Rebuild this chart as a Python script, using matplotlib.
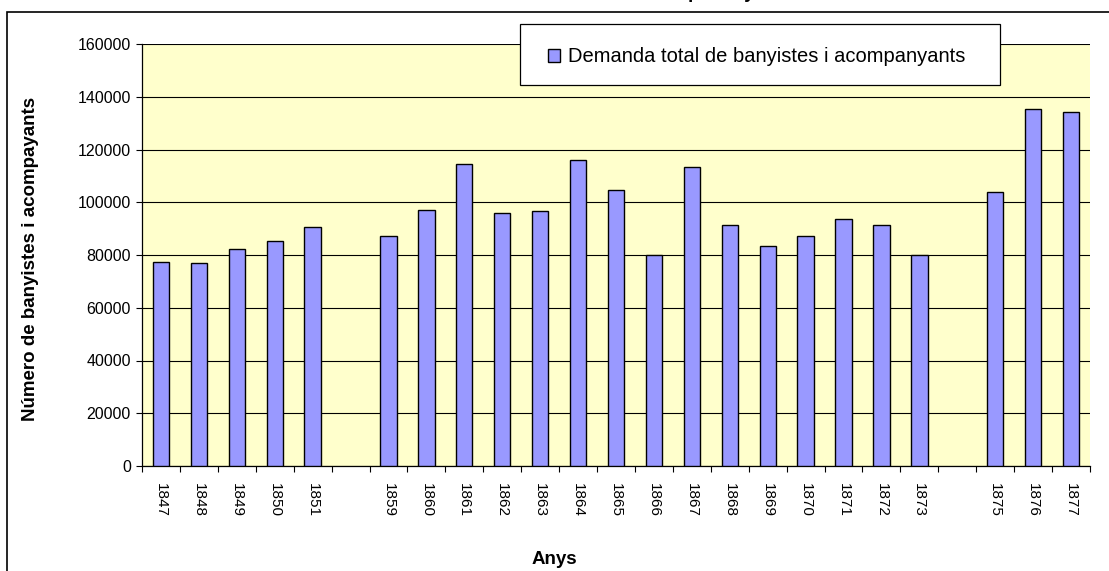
import numpy as np
import matplotlib
matplotlib.use("Agg")
import matplotlib.pyplot as plt
from matplotlib.patches import Rectangle
from matplotlib.ticker import FixedLocator

plt.rcParams["font.family"] = ["Liberation Sans", "DejaVu Sans"]

# empty strings are the gaps in the series (years with no data)
years = ["1847", "1848", "1849", "1850", "1851", "",
         "1859", "1860", "1861", "1862", "1863", "1864", "1865", "1866",
         "1867", "1868", "1869", "1870", "1871", "1872", "1873", "",
         "1875", "1876", "1877"]
demand = [77400, 76800, 82300, 85300, 90700, np.nan,
          87100, 97200, 114500, 96000, 96500, 115900, 104500, 80100,
          113500, 91400, 83600, 87300, 93800, 91400, 80100, np.nan,
          103800, 135500, 134300]
series_name = "Demanda total de banyistes i acompanyants"
title = "Demanda total per any"
y_ticks = list(range(0, 160001, 20000))

W, H = 1109, 571
fig = plt.figure(figsize=(W / 100, H / 100), dpi=100)
ax = fig.add_axes([142 / W, 1 - 466 / H, (1090 - 142) / W, (466 - 44) / H])
ax.set_facecolor("#FFFFCC")

x = np.arange(len(years))
ax.bar(x, demand, width=0.43, color="#9999FF", edgecolor="black",
       linewidth=1.0, zorder=3, label=series_name)

ax.set_xlim(-0.5, len(years) - 0.5)
ax.set_ylim(0, 160000)
ax.set_yticks(y_ticks)
ax.set_yticklabels([str(v) for v in y_ticks], fontsize=11.5)
ax.yaxis.grid(True, color="black", linewidth=0.8, zorder=1)
ax.set_axisbelow(True)

ax.set_xticks(x)
ax.set_xticklabels(years, rotation=270, fontsize=11)
ax.tick_params(axis="x", which="major", length=0, pad=12)
ax.xaxis.set_minor_locator(FixedLocator(np.arange(-0.5, len(years), 1)))
ax.tick_params(axis="x", which="minor", length=4.5, width=0.8)
ax.tick_params(axis="y", length=4, width=0.8, pad=4)

for side in ("top", "right"):
    ax.spines[side].set_visible(False)
for side in ("left", "bottom"):
    ax.spines[side].set_linewidth(0.9)

ax.set_xlabel("Anys", fontsize=13.5, weight="bold")
ax.xaxis.set_label_coords((554 - 142) / 948, -(560 - 466) / 422)
ax.xaxis.label.set_va("center")
ax.set_ylabel("Número de banyistes i acompayants", fontsize=13.5, weight="bold")
ax.yaxis.set_label_coords((31 - 142) / 948, (466 - 258.5) / 422)
ax.yaxis.label.set_va("center")

# legend box drawn separately so its padding can match the reference
fig.patches.append(Rectangle((520 / W, 1 - 85 / H), 480 / W, 61 / H,
                             transform=fig.transFigure, facecolor="white",
                             edgecolor="black", linewidth=0.9, zorder=4))
leg = fig.legend(loc="center left", bbox_to_anchor=(548 / W, 1 - 57 / H),
                 fontsize=14.5, frameon=False, borderpad=0,
                 handlelength=0.6, handleheight=0.6,
                 handletextpad=0.4, borderaxespad=0)
leg.set_zorder(6)

# outer chart border, cut off on the right and bottom
fig.patches.append(Rectangle((7 / W, -0.1), 1.2, 1 - 12 / H + 0.1,
                             transform=fig.transFigure, fill=False,
                             edgecolor="black", linewidth=1.2))
# chart title lies mostly above the visible area, as in the reference
fig.text(654 / W, 1 + 2 / H, title, ha="center", va="baseline",
         fontsize=13.5, weight="bold")

fig.savefig("out.png", dpi=100)
